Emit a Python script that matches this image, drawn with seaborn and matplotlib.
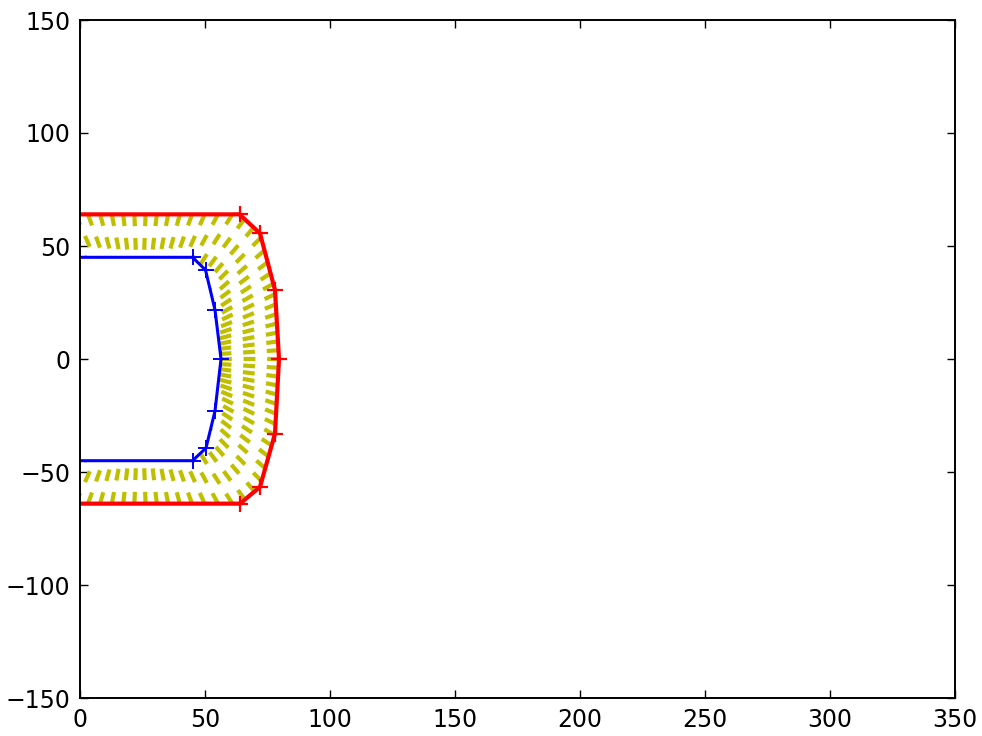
import numpy as np
import pandas as pd
import seaborn as sns
import matplotlib.pyplot as plt

# Inner profile (blue) and outer profile (red), right half of the section
inner_x = [-40.0, 0.0, 45.0, 50.2, 54.0, 56.4, 54.0, 50.4, 45.0, 0.0, -40.0]
inner_y = [45.0, 45.0, 45.0, 39.4, 21.7, 0.0, -23.0, -39.4, -45.0, -45.0, -45.0]
outer_x = [-40.0, 0.0, 63.8, 72.0, 78.0, 79.6, 78.0, 72.0, 64.0, 0.0, -40.0]
outer_y = [64.0, 64.0, 64.0, 55.6, 30.5, 0.0, -33.0, -56.6, -64.0, -64.0, -64.0]

# Vertices carrying a '+' marker (the rounded nose of each profile)
inner_marked = [2, 3, 4, 5, 6, 7, 8]
outer_marked = [2, 3, 4, 5, 6, 7, 8]

# Hatch ribs: rays from a hub on the axis of symmetry, drawn outer -> inner
hub = (24.0, 0.0)
rib_angles_deg = np.arange(-160.0, 160.1, 4.0)

x_ticks = [0, 50, 100, 150, 200, 250, 300, 350]
y_ticks = [-150, -100, -50, 0, 50, 100, 150]


def ray_hit(xs, ys, origin, ang):
    ox, oy = origin
    dx, dy = np.cos(ang), np.sin(ang)
    best = None
    for i in range(len(xs) - 1):
        ax_, ay_ = xs[i], ys[i]
        bx, by = xs[i + 1], ys[i + 1]
        ex, ey = bx - ax_, by - ay_
        den = dx * ey - dy * ex
        if abs(den) < 1e-12:
            continue
        t = ((ax_ - ox) * ey - (ay_ - oy) * ex) / den
        u = ((ax_ - ox) * dy - (ay_ - oy) * dx) / den
        if t > 0 and -1e-9 <= u <= 1 + 1e-9:
            if best is None or t < best[0]:
                best = (t, ox + t * dx, oy + t * dy)
    return None if best is None else best[1:]


rows = []
for k, a in enumerate(np.deg2rad(rib_angles_deg)):
    p_out = ray_hit(outer_x, outer_y, hub, a)
    p_in = ray_hit(inner_x, inner_y, hub, a)
    if p_out is None or p_in is None:
        continue
    rows.append({"rib": k, "order": 0, "x": p_out[0], "y": p_out[1]})
    rows.append({"rib": k, "order": 1, "x": p_in[0], "y": p_in[1]})
ribs = pd.DataFrame(rows)

inner = pd.DataFrame({"x": inner_x, "y": inner_y})
outer = pd.DataFrame({"x": outer_x, "y": outer_y})

sns.set_style("white")
plt.rcParams.update({
    "font.family": ["DejaVu Sans"],
    "axes.edgecolor": "black",
    "axes.linewidth": 1.4,
    "xtick.direction": "in",
    "ytick.direction": "in",
    "xtick.top": True,
    "ytick.right": True,
    "xtick.bottom": True,
    "ytick.left": True,
    "xtick.major.size": 5.6,
    "ytick.major.size": 5.6,
    "xtick.major.width": 1.0,
    "ytick.major.width": 1.0,
    "xtick.color": "black",
    "ytick.color": "black",
    "lines.scale_dashes": False,
})

fig = plt.figure(figsize=(9.82, 7.36), dpi=100)
ax = fig.add_axes([80 / 982, 1 - 698 / 736, 875 / 982, 678 / 736])

sns.lineplot(data=ribs, x="x", y="y", units="rib", estimator=None, sort=False,
             color=(0.75, 0.75, 0.0), linewidth=3.0,
             linestyle=(0, (8.5, 8.5)), dash_capstyle="butt", ax=ax, legend=False)

sns.lineplot(data=inner, x="x", y="y", sort=False, estimator=None,
             color="blue", linewidth=2.2, marker="+", markersize=11,
             markeredgewidth=1.4, markeredgecolor="blue",
             markevery=inner_marked, ax=ax)
sns.lineplot(data=outer, x="x", y="y", sort=False, estimator=None,
             color="red", linewidth=3.0, marker="+", markersize=12,
             markeredgewidth=1.6, markeredgecolor="red",
             markevery=outer_marked, ax=ax)

ax.set_xlim(0, 350)
ax.set_ylim(-150, 150)
ax.set_xticks(x_ticks)
ax.set_yticks(y_ticks)
ax.tick_params(labelsize=17, pad=7)
ax.set_xlabel("")
ax.set_ylabel("")
for s in ax.spines.values():
    s.set_visible(True)
    s.set_color("black")

fig.savefig("out.png", dpi=100)
